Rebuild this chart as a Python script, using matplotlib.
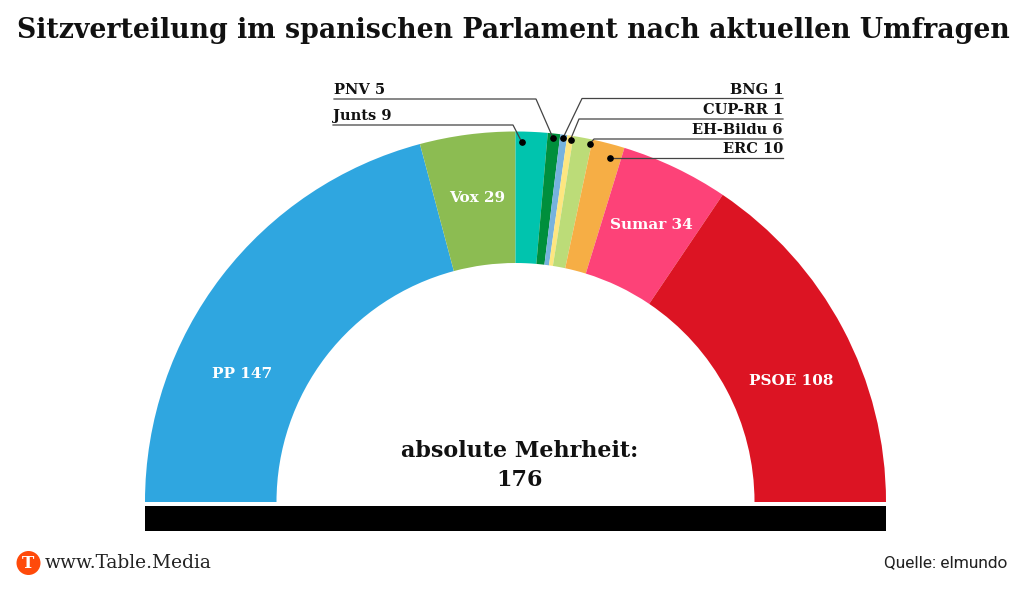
import matplotlib
matplotlib.use('Agg')
import matplotlib.pyplot as plt
from matplotlib.patches import Wedge, Circle, Rectangle

parties = ['PP', 'Vox', 'Junts', 'PNV', 'BNG', 'CUP-RR', 'EH-Bildu', 'ERC', 'Sumar', 'PSOE']
seats = [147, 29, 9, 5, 1, 1, 6, 10, 34, 108]
# slice widths, they are not exactly proportional to seats
arc_deg = [75.05, 14.95, 5.0, 1.95, 1.1, 0.95, 3.0, 5.1, 16.9, 56.0]
colors = ['#2fa6e0', '#8cbc52', '#00c4ae', '#008f3c', '#76b2de', '#fde680',
          '#bcdc78', '#f6ae45', '#fd4278', '#dc1423']
majority = 176

SLAB = 'DejaVu Serif'
cx, cy = 515.5, 88
r_out, r_in = 370.5, 239

fig = plt.figure(figsize=(10.24, 5.9), dpi=100)
ax = fig.add_axes([0, 0, 1, 1])
ax.set_xlim(0, 1024)
ax.set_ylim(0, 590)
ax.axis('off')

# py = pixel rows from the top, easier to compare with the reference
def Y(py):
    return 590 - py

seat_of = dict(zip(parties, seats))

angle = 180.0
for step, col in zip(arc_deg, colors):
    ax.add_patch(Wedge((cx, cy), r_out, angle - step, angle, width=r_out - r_in,
                       facecolor=col, edgecolor='none'))
    angle -= step

ax.add_patch(Rectangle((145, Y(531)), 741, 25, facecolor='black', edgecolor='none'))

ax.text(513, Y(31), 'Sitzverteilung im spanischen Parlament nach aktuellen Umfragen',
        family=SLAB, weight='bold', fontsize=19.3, ha='center', va='center', color='#111111')

# labels inside the ring
inner = [('PP', 242, 374), ('Vox', 477, 198), ('Sumar', 651, 225), ('PSOE', 791, 381)]
for name, x, y in inner:
    ax.text(x, Y(y), f'{name} {seat_of[name]}', family=SLAB, weight='bold', fontsize=11,
            color='white', ha='center', va='center')

ax.text(520, Y(451), 'absolute Mehrheit:', family=SLAB, weight='bold', fontsize=16,
        ha='center', va='center', color='#111111')
ax.text(520, Y(480), str(majority), family=SLAB, weight='bold', fontsize=16,
        ha='center', va='center', color='#111111')

# callouts: party, text x, line y, elbow x, dot x, dot y
left = [('PNV', 334, 99, 536, 553, 138), ('Junts', 333, 125, 513, 521.5, 141.5)]
right = [('BNG', 783, 98.5, 582, 563, 138), ('CUP-RR', 783, 119, 579, 570.5, 139.5),
         ('EH-Bildu', 783, 139, 594, 590, 143.5), ('ERC', 783, 158, 610, 610, 158)]
for group, ha in ((left, 'left'), (right, 'right')):
    for name, tx, ly, ex, dx, dy in group:
        ax.plot([tx, ex, dx], [Y(ly), Y(ly), Y(dy)], color='#444444', lw=0.9, zorder=3)
        ax.plot([dx], [Y(dy)], 'o', color='black', ms=3.8, zorder=4)
        ax.text(tx, Y(ly - 9), f'{name} {seat_of[name]}', family=SLAB, weight='bold',
                fontsize=10.5, ha=ha, va='center', color='#111111')

# footer
ax.add_patch(Circle((28.5, Y(563)), 12, facecolor='#ff4a0a', edgecolor='none'))
ax.text(28.5, Y(563), 'T', family=SLAB, weight='bold', fontsize=12, color='white',
        ha='center', va='center')
ax.text(45, Y(563), 'www.Table.Media', family=SLAB, fontsize=13.4, color='#222222',
        ha='left', va='center')
ax.text(1007, Y(563), 'Quelle: elmundo', family='Roboto', fontsize=12.4, color='#222222',
        ha='right', va='center')

fig.savefig('out.png', dpi=100)
